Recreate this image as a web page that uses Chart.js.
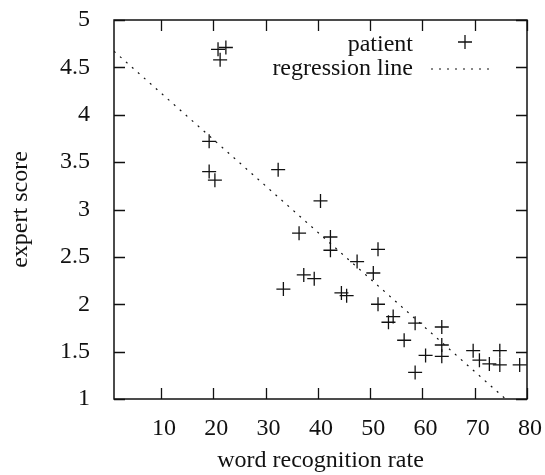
<!DOCTYPE html>
<html>
<head>
<meta charset="utf-8">
<script src="https://cdn.jsdelivr.net/npm/chart.js@4"></script>
<style>
  html, body { margin: 0; padding: 0; background: #fff; }
  #wrap { width: 545px; height: 475px; }
</style>
</head>
<body>
<div id="wrap"><canvas id="myChart" width="545" height="475"></canvas></div>
<script>
// word recognition rate vs expert score
const patientX = [20.9, 22.4, 21.3, 19.2, 19.2, 20.3, 32.4, 40.5, 36.4, 42.4, 42.4, 51.5,
    47.5, 50.6, 37.3, 39.3, 33.4, 44.5, 45.5, 51.5, 54.4, 53.5, 58.6, 63.7, 56.5, 63.7,
    63.7, 60.6, 69.7, 70.9, 72.8, 74.8, 74.8, 78.6, 58.6];
const patientY = [4.69, 4.71, 4.58, 3.72, 3.40, 3.31, 3.42, 3.09, 2.75, 2.71, 2.57, 2.58,
    2.45, 2.33, 2.31, 2.27, 2.16, 2.12, 2.09, 2.00, 1.87, 1.81, 1.80, 1.76, 1.62, 1.57,
    1.45, 1.46, 1.51, 1.41, 1.37, 1.51, 1.36, 1.36, 1.28];

// regression line end points
const lineX = [1, 75.9];
const lineY = [4.67, 1.0];

const xTicks = [10, 20, 30, 40, 50, 60, 70, 80];
const yTicks = [1, 1.5, 2, 2.5, 3, 3.5, 4, 4.5, 5];

const serif = 'Liberation Serif, Times New Roman, serif';
const fontSize = 24;
const ink = '#111';

const toPoints = (xs, ys) => xs.map((x, i) => ({ x: x, y: ys[i] }));

// gnuplot-like frame with inward ticks on all four sides
const framePlugin = {
    id: 'frame',
    afterDraw(chart) {
        const { ctx, chartArea: a, scales } = chart;
        const len = 11;
        ctx.save();
        ctx.strokeStyle = ink;
        ctx.lineWidth = 1.3;
        ctx.beginPath();
        scales.x.ticks.forEach(t => {
            const px = Math.round(scales.x.getPixelForValue(t.value)) + 0.5;
            ctx.moveTo(px, a.bottom); ctx.lineTo(px, a.bottom - len);
            ctx.moveTo(px, a.top); ctx.lineTo(px, a.top + len);
        });
        scales.y.ticks.forEach(t => {
            const py = Math.round(scales.y.getPixelForValue(t.value)) + 0.5;
            ctx.moveTo(a.left, py); ctx.lineTo(a.left + len, py);
            ctx.moveTo(a.right, py); ctx.lineTo(a.right - len, py);
        });
        ctx.stroke();
        ctx.lineWidth = 1.5;
        ctx.strokeRect(a.left, a.top, a.right - a.left, a.bottom - a.top);
        ctx.restore();
    }
};

// key in the top right, text first then the sample
const keyPlugin = {
    id: 'key',
    afterDraw(chart) {
        const { ctx } = chart;
        const ds = chart.data.datasets;
        const textRight = 413;
        const symX = 465;
        const rows = [45, 69];
        ctx.save();
        ctx.font = fontSize + 'px ' + serif;
        ctx.fillStyle = ink;
        ctx.textAlign = 'right';
        ctx.textBaseline = 'middle';
        ctx.strokeStyle = ink;
        ds.forEach((d, i) => {
            ctx.fillText(d.label, textRight, rows[i]);
            ctx.beginPath();
            if (i === 0) {
                ctx.lineWidth = 1.3;
                ctx.moveTo(symX - 7, rows[i] - 3); ctx.lineTo(symX + 7, rows[i] - 3);
                ctx.moveTo(symX, rows[i] - 10); ctx.lineTo(symX, rows[i] + 4);
            } else {
                ctx.lineWidth = 1.2;
                ctx.setLineDash([2, 6]);
                ctx.moveTo(symX - 34, rows[i]); ctx.lineTo(symX + 28, rows[i]);
            }
            ctx.stroke();
            ctx.setLineDash([]);
        });
        ctx.restore();
    }
};

const data = {
    datasets: [{
        type: 'scatter',
        label: 'patient',
        data: toPoints(patientX, patientY),
        pointStyle: 'cross',
        pointRadius: 7,
        pointHoverRadius: 7,
        borderColor: ink,
        backgroundColor: ink,
        pointBorderWidth: 1.3,
    }, {
        type: 'line',
        label: 'regression line',
        data: toPoints(lineX, lineY),
        borderColor: ink,
        borderWidth: 1.2,
        borderDash: [2, 6],
        pointRadius: 0,
        fill: false,
    }]
};

const config = {
    type: 'scatter',
    data: data,
    options: {
        responsive: false,
        animation: false,
        layout: { padding: { top: 20, right: 18, left: 0, bottom: 0 } },
        plugins: {
            legend: { display: false },
            tooltip: { enabled: false },
        },
        scales: {
            x: {
                type: 'linear',
                min: 1,
                max: 80,
                afterBuildTicks: s => { s.ticks = xTicks.map(v => ({ value: v })); },
                afterFit: s => {
                    s.height = 76;
                    s.paddingLeft = 0; s.paddingRight = 0;
                },
                grid: { display: false },
                border: { display: false },
                ticks: {
                    color: ink, font: { family: serif, size: fontSize }, padding: 7,
                    maxRotation: 0, labelOffset: 3,
                    callback: v => String(v),
                },
                title: {
                    display: true,
                    text: 'word recognition rate',
                    color: ink,
                    font: { family: serif, size: fontSize },
                    padding: { top: 0, bottom: 0 },
                },
            },
            y: {
                type: 'linear',
                min: 1,
                max: 5,
                afterBuildTicks: s => { s.ticks = yTicks.map(v => ({ value: v })); },
                afterFit: s => {
                    s.width = 114;
                    s.paddingTop = 0; s.paddingBottom = 0;
                },
                grid: { display: false },
                border: { display: false },
                ticks: {
                    color: ink, font: { family: serif, size: fontSize }, padding: 16,
                    callback: v => String(v),
                },
                title: {
                    display: true,
                    text: 'expert score',
                    color: ink,
                    font: { family: serif, size: fontSize },
                    padding: { top: 6, bottom: 0 },
                },
            },
        },
    },
    plugins: [framePlugin, keyPlugin],
};

const myChart = new Chart(
    document.getElementById('myChart'),
    config
);
</script>
</body>
</html>
